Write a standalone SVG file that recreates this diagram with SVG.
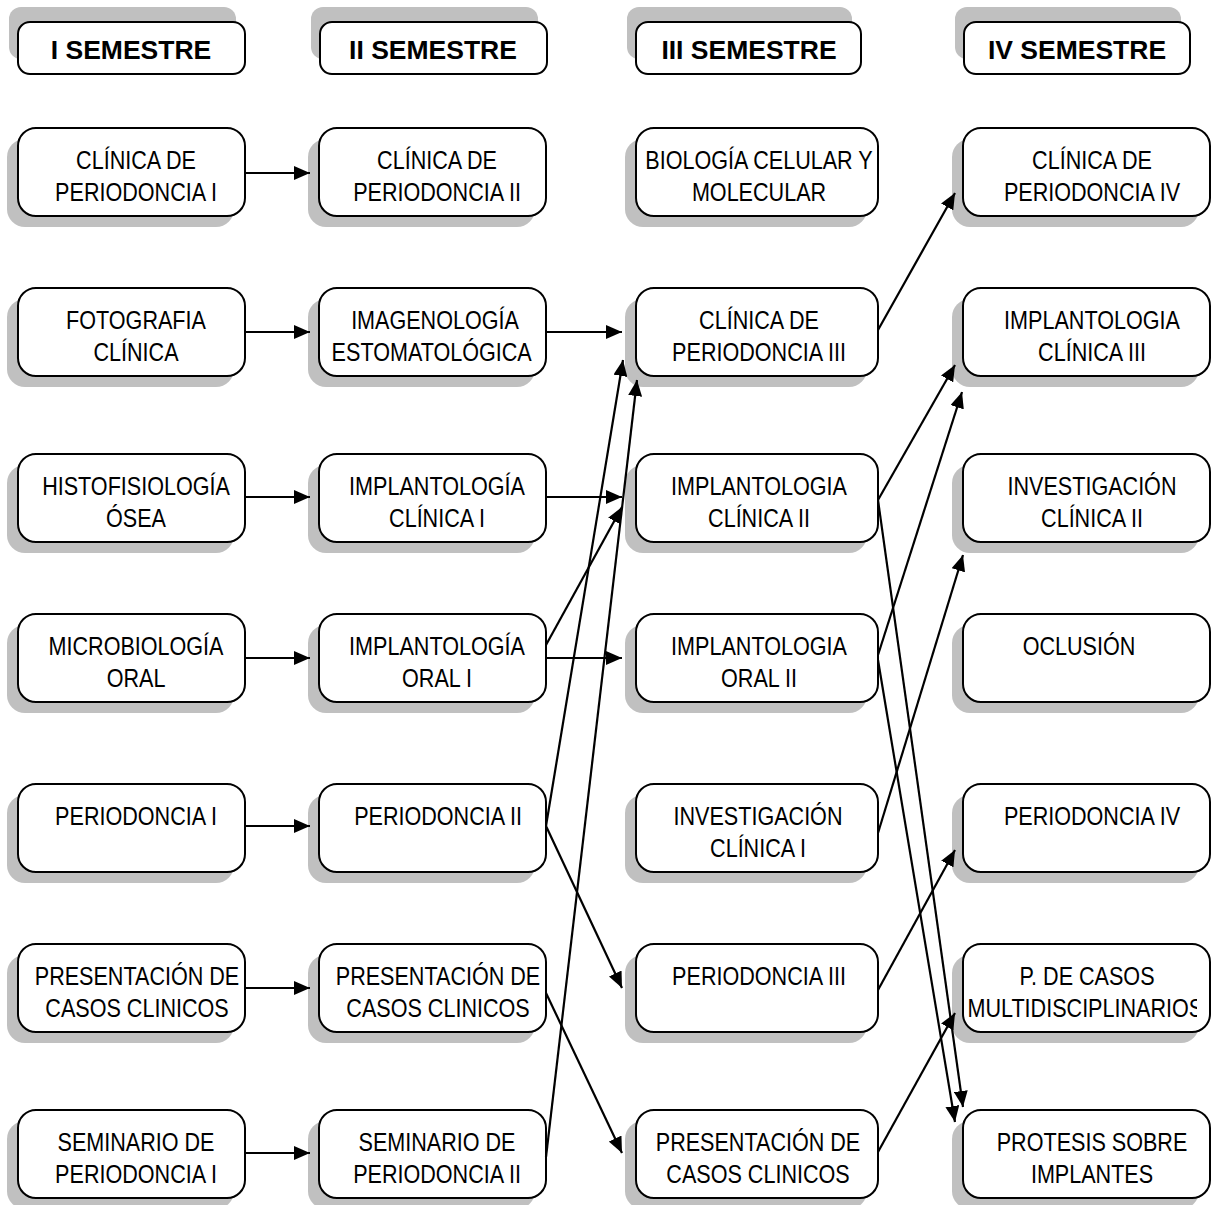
<svg xmlns="http://www.w3.org/2000/svg" width="1220" height="1205" viewBox="0 0 1220 1205">
<defs>
<style>
.sh{fill:#c0c0c0;stroke:none}
.bx{fill:#fff;stroke:#000;stroke-width:2}
.t{font-family:"Liberation Sans",Arial,sans-serif;font-size:26px;fill:#000;text-anchor:middle}
.h{font-family:"Liberation Sans",Arial,sans-serif;font-size:26.5px;font-weight:bold;fill:#000;text-anchor:middle}
.c{fill:none;stroke:#000;stroke-width:2.2;marker-end:url(#ah)}
</style>
<marker id="ah" markerUnits="userSpaceOnUse" markerWidth="16" markerHeight="14" viewBox="0 0 16 14" refX="16" refY="7" orient="auto">
<path d="M0,0 L16,7 L0,14 z" fill="#000"/>
</marker>
<clipPath id="clip6"><rect x="963" y="944" width="234" height="88"/></clipPath>
</defs>
<rect width="1220" height="1205" fill="#fff"/>

<!-- headers -->
<g id="h1"><rect class="sh" x="9" y="7" width="227" height="52" rx="12"/><rect class="bx" x="18" y="22" width="227" height="52" rx="12"/><text class="h" x="131" y="59">I SEMESTRE</text></g>
<g id="h2"><rect class="sh" x="311" y="7" width="227" height="52" rx="12"/><rect class="bx" x="320" y="22" width="227" height="52" rx="12"/><text class="h" x="433" y="59">II SEMESTRE</text></g>
<g id="h3"><rect class="sh" x="627" y="7" width="225" height="52" rx="12"/><rect class="bx" x="636" y="22" width="225" height="52" rx="12"/><text class="h" x="749" y="59">III SEMESTRE</text></g>
<g id="h4"><rect class="sh" x="955" y="7" width="226" height="52" rx="12"/><rect class="bx" x="964" y="22" width="226" height="52" rx="12"/><text class="h" x="1077" y="59">IV SEMESTRE</text></g>

<!-- column 1 -->
<g id="c1r1"><rect class="sh" x="7" y="139" width="227" height="88" rx="18"/><rect class="bx" x="18" y="128" width="227" height="88" rx="18"/><text class="t" transform="translate(136,169) scale(0.83,1)"><tspan x="0" y="0">CLÍNICA DE</tspan><tspan x="0" y="32">PERIODONCIA I</tspan></text></g>
<g id="c1r2"><rect class="sh" x="7" y="299" width="227" height="88" rx="18"/><rect class="bx" x="18" y="288" width="227" height="88" rx="18"/><text class="t" transform="translate(136,329) scale(0.83,1)"><tspan x="0" y="0">FOTOGRAFIA</tspan><tspan x="0" y="32">CLÍNICA</tspan></text></g>
<g id="c1r3"><rect class="sh" x="7" y="465" width="227" height="88" rx="18"/><rect class="bx" x="18" y="454" width="227" height="88" rx="18"/><text class="t" transform="translate(136,495) scale(0.83,1)"><tspan x="0" y="0">HISTOFISIOLOGÍA</tspan><tspan x="0" y="32">ÓSEA</tspan></text></g>
<g id="c1r4"><rect class="sh" x="7" y="625" width="227" height="88" rx="18"/><rect class="bx" x="18" y="614" width="227" height="88" rx="18"/><text class="t" transform="translate(136,655) scale(0.83,1)"><tspan x="0" y="0">MICROBIOLOGÍA</tspan><tspan x="0" y="32">ORAL</tspan></text></g>
<g id="c1r5"><rect class="sh" x="7" y="795" width="227" height="88" rx="18"/><rect class="bx" x="18" y="784" width="227" height="88" rx="18"/><text class="t" transform="translate(136,825) scale(0.83,1)"><tspan x="0" y="0">PERIODONCIA I</tspan></text></g>
<g id="c1r6"><rect class="sh" x="7" y="955" width="227" height="88" rx="18"/><rect class="bx" x="18" y="944" width="227" height="88" rx="18"/><text class="t" transform="translate(137,985) scale(0.83,1)"><tspan x="0" y="0">PRESENTACIÓN DE</tspan><tspan x="0" y="32">CASOS CLINICOS</tspan></text></g>
<g id="c1r7"><rect class="sh" x="7" y="1121" width="227" height="88" rx="18"/><rect class="bx" x="18" y="1110" width="227" height="88" rx="18"/><text class="t" transform="translate(136,1151) scale(0.83,1)"><tspan x="0" y="0">SEMINARIO DE</tspan><tspan x="0" y="32">PERIODONCIA I</tspan></text></g>

<!-- column 2 -->
<g id="c2r1"><rect class="sh" x="308" y="139" width="227" height="88" rx="18"/><rect class="bx" x="319" y="128" width="227" height="88" rx="18"/><text class="t" transform="translate(437,169) scale(0.83,1)"><tspan x="0" y="0">CLÍNICA DE</tspan><tspan x="0" y="32">PERIODONCIA II</tspan></text></g>
<g id="c2r2"><rect class="sh" x="308" y="299" width="227" height="88" rx="18"/><rect class="bx" x="319" y="288" width="227" height="88" rx="18"/><text class="t" transform="translate(435,329) scale(0.83,1)"><tspan x="0" y="0">IMAGENOLOGÍA</tspan><tspan x="-4" y="32">ESTOMATOLÓGICA</tspan></text></g>
<g id="c2r3"><rect class="sh" x="308" y="465" width="227" height="88" rx="18"/><rect class="bx" x="319" y="454" width="227" height="88" rx="18"/><text class="t" transform="translate(437,495) scale(0.83,1)"><tspan x="0" y="0">IMPLANTOLOGÍA</tspan><tspan x="0" y="32">CLÍNICA I</tspan></text></g>
<g id="c2r4"><rect class="sh" x="308" y="625" width="227" height="88" rx="18"/><rect class="bx" x="319" y="614" width="227" height="88" rx="18"/><text class="t" transform="translate(437,655) scale(0.83,1)"><tspan x="0" y="0">IMPLANTOLOGÍA</tspan><tspan x="0" y="32">ORAL I</tspan></text></g>
<g id="c2r5"><rect class="sh" x="308" y="795" width="227" height="88" rx="18"/><rect class="bx" x="319" y="784" width="227" height="88" rx="18"/><text class="t" transform="translate(438,825) scale(0.83,1)"><tspan x="0" y="0">PERIODONCIA II</tspan></text></g>
<g id="c2r6"><rect class="sh" x="308" y="955" width="227" height="88" rx="18"/><rect class="bx" x="319" y="944" width="227" height="88" rx="18"/><text class="t" transform="translate(438,985) scale(0.83,1)"><tspan x="0" y="0">PRESENTACIÓN DE</tspan><tspan x="0" y="32">CASOS CLINICOS</tspan></text></g>
<g id="c2r7"><rect class="sh" x="308" y="1121" width="227" height="88" rx="18"/><rect class="bx" x="319" y="1110" width="227" height="88" rx="18"/><text class="t" transform="translate(437,1151) scale(0.83,1)"><tspan x="0" y="0">SEMINARIO DE</tspan><tspan x="0" y="32">PERIODONCIA II</tspan></text></g>

<!-- column 3 -->
<g id="c3r1"><rect class="sh" x="625" y="139" width="242" height="88" rx="18"/><rect class="bx" x="636" y="128" width="242" height="88" rx="18"/><text class="t" transform="translate(759,169) scale(0.83,1)"><tspan x="0" y="0">BIOLOGÍA CELULAR Y</tspan><tspan x="0" y="32">MOLECULAR</tspan></text></g>
<g id="c3r2"><rect class="sh" x="625" y="299" width="242" height="88" rx="18"/><rect class="bx" x="636" y="288" width="242" height="88" rx="18"/><text class="t" transform="translate(759,329) scale(0.83,1)"><tspan x="0" y="0">CLÍNICA DE</tspan><tspan x="0" y="32">PERIODONCIA III</tspan></text></g>
<g id="c3r3"><rect class="sh" x="625" y="465" width="242" height="88" rx="18"/><rect class="bx" x="636" y="454" width="242" height="88" rx="18"/><text class="t" transform="translate(759,495) scale(0.83,1)"><tspan x="0" y="0">IMPLANTOLOGIA</tspan><tspan x="0" y="32">CLÍNICA II</tspan></text></g>
<g id="c3r4"><rect class="sh" x="625" y="625" width="242" height="88" rx="18"/><rect class="bx" x="636" y="614" width="242" height="88" rx="18"/><text class="t" transform="translate(759,655) scale(0.83,1)"><tspan x="0" y="0">IMPLANTOLOGIA</tspan><tspan x="0" y="32">ORAL II</tspan></text></g>
<g id="c3r5"><rect class="sh" x="625" y="795" width="242" height="88" rx="18"/><rect class="bx" x="636" y="784" width="242" height="88" rx="18"/><text class="t" transform="translate(758,825) scale(0.83,1)"><tspan x="0" y="0">INVESTIGACIÓN</tspan><tspan x="0" y="32">CLÍNICA I</tspan></text></g>
<g id="c3r6"><rect class="sh" x="625" y="955" width="242" height="88" rx="18"/><rect class="bx" x="636" y="944" width="242" height="88" rx="18"/><text class="t" transform="translate(759,985) scale(0.83,1)"><tspan x="0" y="0">PERIODONCIA III</tspan></text></g>
<g id="c3r7"><rect class="sh" x="625" y="1121" width="242" height="88" rx="18"/><rect class="bx" x="636" y="1110" width="242" height="88" rx="18"/><text class="t" transform="translate(758,1151) scale(0.83,1)"><tspan x="0" y="0">PRESENTACIÓN DE</tspan><tspan x="0" y="32">CASOS CLINICOS</tspan></text></g>

<!-- column 4 -->
<g id="c4r1"><rect class="sh" x="952" y="139" width="247" height="88" rx="18"/><rect class="bx" x="963" y="128" width="247" height="88" rx="18"/><text class="t" transform="translate(1092,169) scale(0.83,1)"><tspan x="0" y="0">CLÍNICA DE</tspan><tspan x="0" y="32">PERIODONCIA IV</tspan></text></g>
<g id="c4r2"><rect class="sh" x="952" y="299" width="247" height="88" rx="18"/><rect class="bx" x="963" y="288" width="247" height="88" rx="18"/><text class="t" transform="translate(1092,329) scale(0.83,1)"><tspan x="0" y="0">IMPLANTOLOGIA</tspan><tspan x="0" y="32">CLÍNICA III</tspan></text></g>
<g id="c4r3"><rect class="sh" x="952" y="465" width="247" height="88" rx="18"/><rect class="bx" x="963" y="454" width="247" height="88" rx="18"/><text class="t" transform="translate(1092,495) scale(0.83,1)"><tspan x="0" y="0">INVESTIGACIÓN</tspan><tspan x="0" y="32">CLÍNICA II</tspan></text></g>
<g id="c4r4"><rect class="sh" x="952" y="625" width="247" height="88" rx="18"/><rect class="bx" x="963" y="614" width="247" height="88" rx="18"/><text class="t" transform="translate(1079,655) scale(0.83,1)"><tspan x="0" y="0">OCLUSIÓN</tspan></text></g>
<g id="c4r5"><rect class="sh" x="952" y="795" width="247" height="88" rx="18"/><rect class="bx" x="963" y="784" width="247" height="88" rx="18"/><text class="t" transform="translate(1092,825) scale(0.83,1)"><tspan x="0" y="0">PERIODONCIA IV</tspan></text></g>
<g id="c4r6"><rect class="sh" x="952" y="955" width="247" height="88" rx="18"/><rect class="bx" x="963" y="944" width="247" height="88" rx="18"/><g clip-path="url(#clip6)"><text class="t" transform="translate(1087,985) scale(0.83,1)"><tspan x="0" y="0">P. DE CASOS</tspan><tspan x="-2" y="32">MULTIDISCIPLINARIOS</tspan></text></g></g>
<g id="c4r7"><rect class="sh" x="952" y="1121" width="247" height="88" rx="18"/><rect class="bx" x="963" y="1110" width="247" height="88" rx="18"/><text class="t" transform="translate(1092,1151) scale(0.83,1)"><tspan x="0" y="0">PROTESIS SOBRE</tspan><tspan x="0" y="32">IMPLANTES</tspan></text></g>

<!-- connectors -->
<g id="connectors">
<line class="c" x1="245" y1="173" x2="310" y2="173"/>
<line class="c" x1="245" y1="332" x2="310" y2="332"/>
<line class="c" x1="245" y1="497" x2="310" y2="497"/>
<line class="c" x1="245" y1="658" x2="310" y2="658"/>
<line class="c" x1="245" y1="826" x2="310" y2="826"/>
<line class="c" x1="245" y1="988" x2="310" y2="988"/>
<line class="c" x1="245" y1="1153" x2="310" y2="1153"/>
<line class="c" x1="546" y1="332" x2="622" y2="332"/>
<line class="c" x1="546" y1="497" x2="622" y2="497"/>
<line class="c" x1="546" y1="658" x2="622" y2="658"/>
<line class="c" x1="546" y1="645" x2="622" y2="507"/>
<line class="c" x1="546" y1="826" x2="623" y2="360"/>
<line class="c" x1="546" y1="1157" x2="637" y2="380"/>
<line class="c" x1="546" y1="826" x2="622" y2="988"/>
<line class="c" x1="546" y1="993" x2="622" y2="1153"/>
<line class="c" x1="878" y1="330" x2="955" y2="193"/>
<line class="c" x1="878" y1="500" x2="955" y2="365"/>
<line class="c" x1="878" y1="655" x2="962" y2="392"/>
<line class="c" x1="878" y1="833" x2="963" y2="555"/>
<line class="c" x1="878" y1="500" x2="963" y2="1107"/>
<line class="c" x1="878" y1="660" x2="955" y2="1122"/>
<line class="c" x1="878" y1="990" x2="955" y2="850"/>
<line class="c" x1="878" y1="1152" x2="955" y2="1013"/>
</g>
</svg>
